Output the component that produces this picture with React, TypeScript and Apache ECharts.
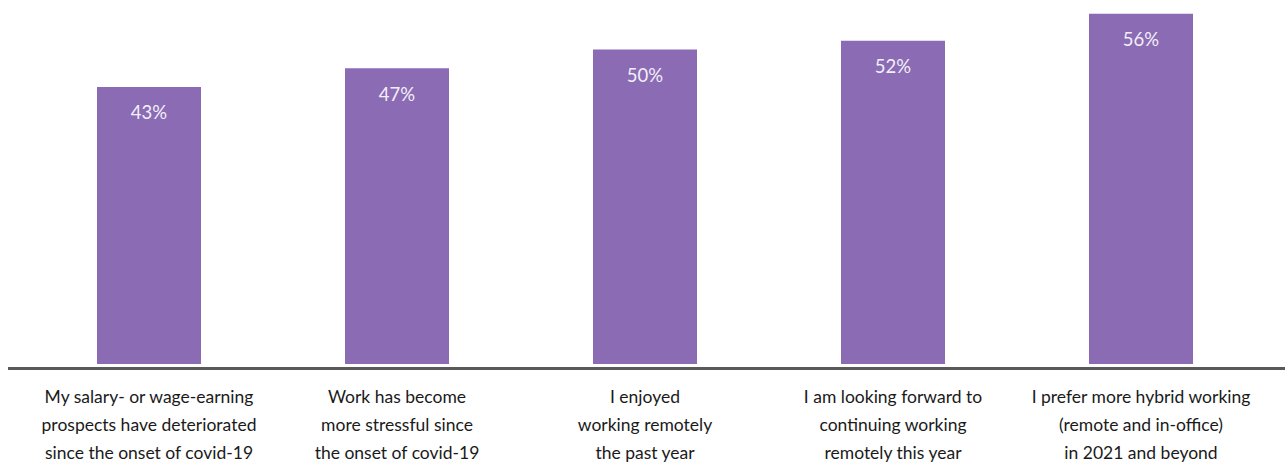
import React, { useEffect, useRef } from "react";
import * as echarts from "echarts";

const categories = [
  "My salary- or wage-earning\nprospects have deteriorated\nsince the onset of covid-19",
  "Work has become\nmore stressful since\nthe onset of covid-19",
  "I enjoyed\nworking remotely\nthe past year",
  "I am looking forward to\ncontinuing working\nremotely this year",
  "I prefer more hybrid working\n(remote and in-office)\nin 2021 and beyond",
];
const values = [44.3, 47.3, 50.3, 51.7, 56.0];
const valueLabels = ["43%", "47%", "50%", "52%", "56%"];

const FONT = "Lato";

export default function App() {
  const ref = useRef<HTMLDivElement>(null);
  useEffect(() => {
    document.body.style.margin = "0";
    const chart = echarts.init(ref.current!, undefined, { renderer: "svg" });
    chart.setOption({
      animation: false,
      grid: { left: 25, right: 20, top: 0, bottom: 97.5 },
      xAxis: {
        type: "category",
        data: categories,
        axisLine: { show: false },
        axisTick: { show: false },
        axisLabel: {
          interval: 0,
          color: "#1a1a1a",
          fontFamily: FONT,
          fontSize: 17.5,
          lineHeight: 28,
          margin: 18,
        },
      },
      yAxis: {
        type: "value",
        min: 0,
        max: 58.2,
        show: false,
        splitLine: { show: false },
      },
      series: [
        {
          type: "bar",
          data: values,
          barWidth: 104,
          itemStyle: { color: "#8a6bb4" },
          label: {
            show: true,
            position: "insideTop",
            distance: 16,
            color: "#f3eff8",
            fontFamily: FONT,
            fontSize: 18.5,
            formatter: (p: any) => valueLabels[p.dataIndex],
          },
        },
      ],
      graphic: [
        {
          type: "line",
          z: 100,
          shape: { x1: 8, y1: 368.5, x2: 1285, y2: 368.5 },
          style: { stroke: "#595959", lineWidth: 3 },
        },
      ],
    });
    return () => chart.dispose();
  }, []);
  return <div ref={ref} style={{ width: 1285, height: 466 }} />;
}
